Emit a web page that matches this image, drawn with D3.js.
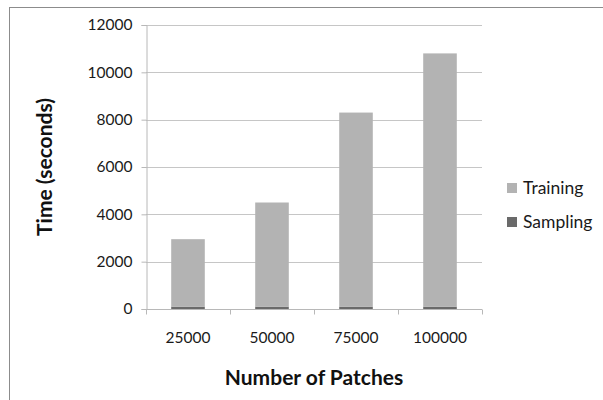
<!DOCTYPE html>
<html>
<head>
<meta charset="utf-8">
<script src="https://cdn.jsdelivr.net/npm/d3@7"></script>
<style>
  html, body { margin: 0; padding: 0; background: #fff; }
  svg { display: block; font-family: Lato, "Open Sans", sans-serif; }
</style>
</head>
<body>
<svg id="chart" width="603" height="400"></svg>
<script>
// Stacked timing per patch count
const categories = ["25000", "50000", "75000", "100000"];
const sampling = [100, 100, 100, 100];
const training = [2850, 4400, 8200, 10700];
const seriesNames = ["Training", "Sampling"];
const yTicks = [0, 2000, 4000, 6000, 8000, 10000, 12000];

const svg = d3.select("#chart");
const W = 603, H = 400;
const m = { left: 146, right: 121, top: 25, bottom: 91 };

// outer frame
svg.append("rect")
  .attr("x", 9.5).attr("y", 7.5)
  .attr("width", W).attr("height", H)
  .attr("fill", "none").attr("stroke", "#8c8c8c").attr("stroke-width", 1);

const x = d3.scaleBand().domain(categories).range([m.left, W - m.right]).paddingInner(0.6).paddingOuter(0.3);
const y = d3.scaleLinear().domain([0, 12000]).range([H - m.bottom, m.top]);

// gridlines
svg.append("g").selectAll("line").data(yTicks.slice(1)).join("line")
  .attr("x1", m.left).attr("x2", W - m.right)
  .attr("y1", d => Math.round(y(d)) + 0.5).attr("y2", d => Math.round(y(d)) + 0.5)
  .attr("stroke", "#c6c6c6");

// stacked bars
const rows = categories.map((c, i) => ({ cat: c, Sampling: sampling[i], Training: training[i] }));
const stack = d3.stack().keys(["Sampling", "Training"])(rows);
const colors = { Training: "#b3b3b3", Sampling: "#6a6a6a" };
svg.append("g").selectAll("g").data(stack).join("g")
  .attr("fill", d => colors[d.key])
  .selectAll("rect").data(d => d).join("rect")
  .attr("x", d => x(d.data.cat))
  .attr("width", x.bandwidth())
  .attr("y", d => y(d[1]))
  .attr("height", d => y(d[0]) - y(d[1]));

// y axis
const yAxis = svg.append("g").attr("transform", `translate(${m.left + 0.5},0)`)
  .call(d3.axisLeft(y).tickValues(yTicks).tickSize(5).tickPadding(9).tickFormat(d3.format("d")));
yAxis.select(".domain").attr("stroke", "#b8b8b8");
yAxis.selectAll(".tick line").attr("stroke", "#b8b8b8");
yAxis.selectAll("text").attr("font-size", 15.5).attr("fill", "#1a1a1a").attr("font-family", "Lato, sans-serif");

// x axis with boundary ticks between categories
const xBase = Math.round(y(0)) + 0.5;
svg.append("line").attr("x1", m.left).attr("x2", W - m.right)
  .attr("y1", xBase).attr("y2", xBase).attr("stroke", "#b8b8b8");
const bounds = d3.range(categories.length + 1).map(i => m.left + i * (W - m.left - m.right) / categories.length);
svg.append("g").selectAll("line").data(bounds).join("line")
  .attr("x1", d => Math.round(d) + 0.5).attr("x2", d => Math.round(d) + 0.5)
  .attr("y1", xBase).attr("y2", xBase + 5).attr("stroke", "#b8b8b8");
svg.append("g").selectAll("text").data(categories).join("text")
  .attr("x", d => x(d) + x.bandwidth() / 2)
  .attr("y", 343)
  .attr("text-anchor", "middle")
  .attr("font-size", 15.5).attr("fill", "#1a1a1a")
  .text(d => d);

// axis titles
svg.append("text").attr("x", (m.left + W - m.right) / 2).attr("y", 385)
  .attr("text-anchor", "middle").attr("font-size", 21).attr("font-weight", "bold").attr("fill", "#111")
  .text("Number of Patches");
svg.append("text").attr("transform", `translate(52,${(m.top + H - m.bottom) / 2}) rotate(-90)`)
  .attr("text-anchor", "middle").attr("font-size", 21).attr("font-weight", "bold").attr("fill", "#111")
  .text("Time (seconds)");

// legend
const legend = svg.append("g").selectAll("g").data(seriesNames).join("g")
  .attr("transform", (d, i) => `translate(507,${183 + i * 34})`);
legend.append("rect").attr("width", 10).attr("height", 10).attr("fill", d => colors[d]);
legend.append("text").attr("x", 16).attr("y", 11).attr("font-size", 17.5).attr("fill", "#1a1a1a").text(d => d);
</script>
</body>
</html>
